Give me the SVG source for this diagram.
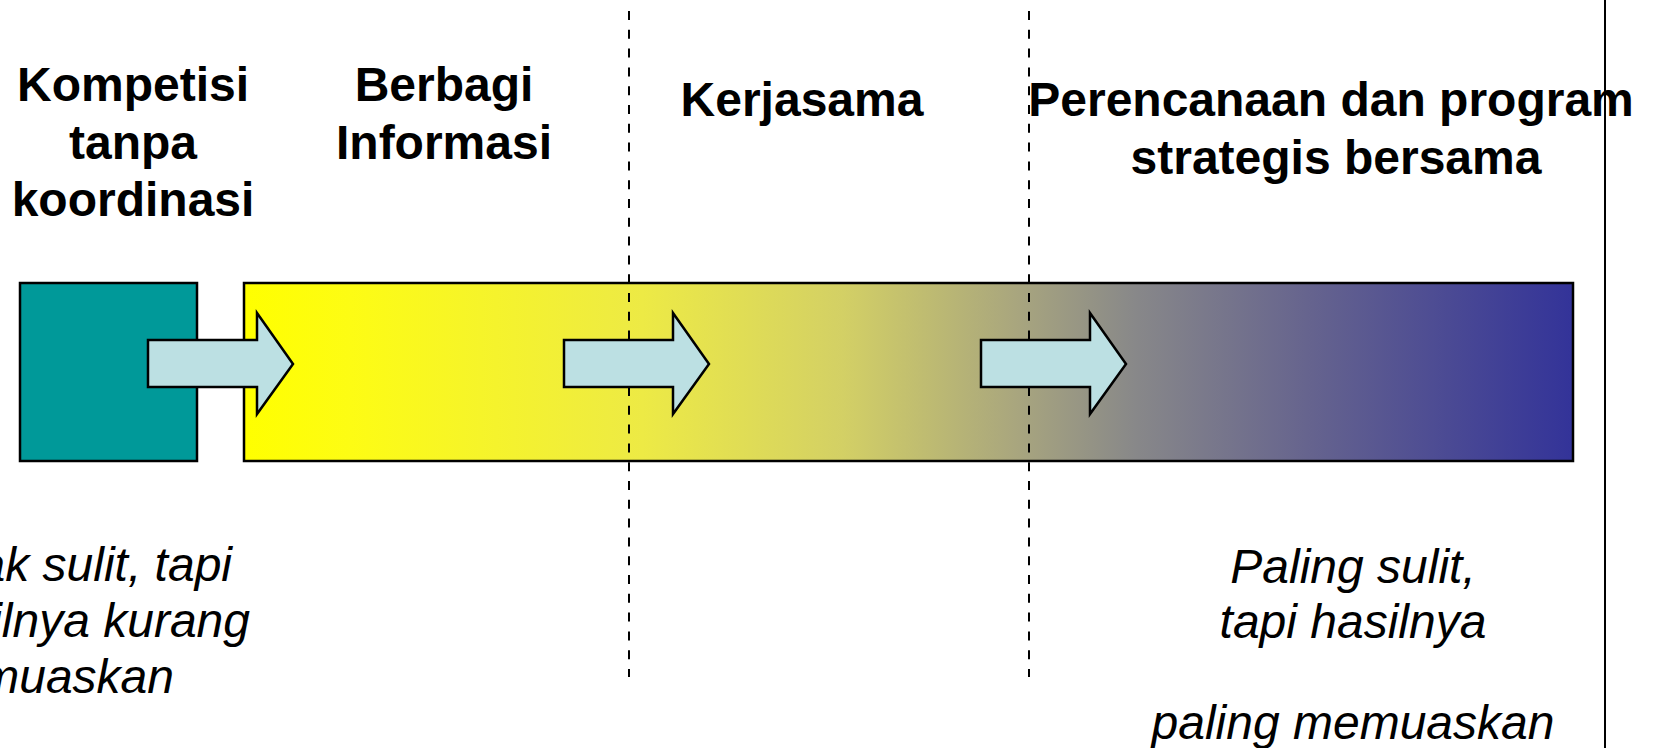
<svg xmlns="http://www.w3.org/2000/svg" width="1653" height="748" viewBox="0 0 1653 748">
<style>
.t{font-family:"Liberation Sans",Arial,sans-serif;font-weight:bold;font-size:48px;fill:#000;text-anchor:middle}
.i{font-family:"Liberation Sans",Arial,sans-serif;font-style:italic;font-size:48px;fill:#000}
.box{stroke:#000;stroke-width:2.5}
.arrow{fill:#BCE0E3;stroke:#000;stroke-width:2.5;stroke-linejoin:miter}
.dash{stroke:#000;stroke-width:2;stroke-dasharray:9 9.8;fill:none}
</style>
<defs>
<linearGradient id="grad" x1="0" y1="0" x2="1" y2="0">
<stop offset="0" stop-color="#FFFF00"/>
<stop offset="0.08" stop-color="#FDFC14"/>
<stop offset="0.3" stop-color="#EDEA45"/>
<stop offset="0.45" stop-color="#D3D065"/>
<stop offset="0.58" stop-color="#A9A67E"/>
<stop offset="0.67" stop-color="#888889"/>
<stop offset="0.8" stop-color="#66648E"/>
<stop offset="1" stop-color="#333399"/>
</linearGradient>
</defs>
<rect width="1653" height="748" fill="#fff"/>
<g id="divider">
<line x1="1605" y1="0" x2="1605" y2="748" stroke="#000" stroke-width="2"/>
</g>
<g id="stage1">
<rect class="box" x="20" y="283" width="177" height="178" fill="#009999"/>
<text class="t" x="133" y="101">Kompetisi</text>
<text class="t" x="133" y="159">tanpa</text>
<text class="t" x="133" y="216">koordinasi</text>
</g>
<g id="stage-bar">
<rect class="box" x="244" y="283" width="1329" height="178" fill="url(#grad)"/>
</g>
<g id="stage2">
<text class="t" x="444" y="101">Berbagi</text>
<text class="t" x="444" y="159">Informasi</text>
</g>
<g id="stage3">
<text class="t" x="802" y="116">Kerjasama</text>
</g>
<g id="stage4">
<text class="t" x="1331" y="116">Perencanaan dan program</text>
<text class="t" x="1336" y="174">strategis bersama</text>
</g>
<g id="connectors">
<line class="dash" x1="629" y1="11" x2="629" y2="677"/>
<line class="dash" x1="1029" y1="11" x2="1029" y2="677"/>
<polygon class="arrow" points="148,340 257,340 257,313 293,364 257,414 257,387 148,387"/>
<polygon class="arrow" points="564,340 673,340 673,313 709,364 673,414 673,387 564,387"/>
<polygon class="arrow" points="981,340 1090,340 1090,313 1126,364 1090,414 1090,387 981,387"/>
</g>
<g id="note-left">
<text class="i" x="232" y="581" text-anchor="end">ak sulit, tapi</text>
<text class="i" x="250" y="637" text-anchor="end">ilnya kurang</text>
<text class="i" x="174" y="693" text-anchor="end">muaskan</text>
</g>
<g id="note-right">
<text class="i" x="1353" y="583" text-anchor="middle">Paling sulit,</text>
<text class="i" x="1353" y="638" text-anchor="middle">tapi hasilnya</text>
<text class="i" x="1353" y="739" text-anchor="middle">paling memuaskan</text>
</g>
</svg>
